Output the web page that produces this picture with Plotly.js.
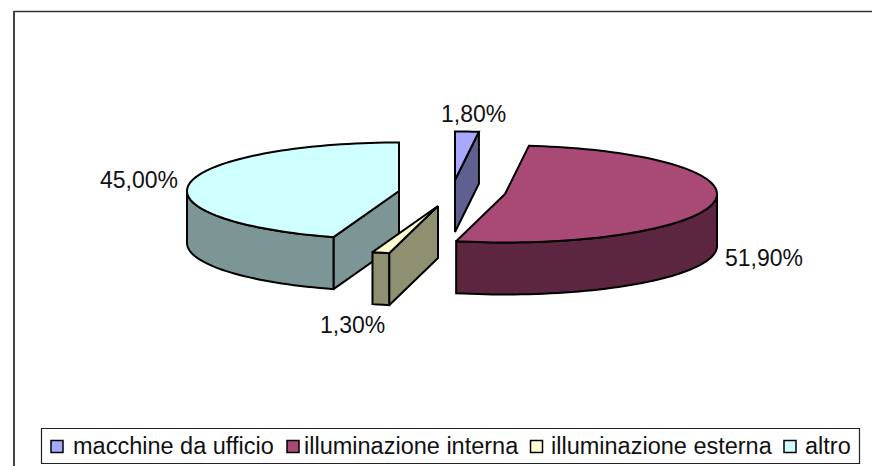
<!DOCTYPE html>
<html><head><meta charset="utf-8">
<script src="https://cdn.plot.ly/plotly-3.0.1.min.js"></script>
<style>html,body{margin:0;padding:0;background:#fff}#c{width:872px;height:466px}</style>
</head><body><div id="c"></div>
<script>
// Data
const categories = ["macchine da ufficio", "illuminazione interna", "illuminazione esterna", "altro"];
const values = [1.8, 51.9, 1.3, 45.0];
const valueLabels = ["1,80%", "51,90%", "1,30%", "45,00%"];
const topColors = ["#A8A8FF", "#A94A76", "#FFFFD2", "#D0FFFF"];
const wallColors = ["#5F5F90", "#5C2540", "#8F8F72", "#7B9695"];

// Pie geometry in plot units (axes run 0..872 and 466..0)
const RX = 212, RY = 48.5, DEPTH = 52;
const apexX = [455, 505, 438, 399];
const apexY = [180, 194, 206, 191];
const labelX = [473, 764, 352, 139];
const labelY = [114, 258, 325, 180];
const drawOrder = [3, 2, 1, 0];
const legendSwatchX = [57, 293, 536.5, 790];
const legendTextX = [73, 304, 551, 805];
const legendY = 446.5;

const rad = d => d * Math.PI / 180;
const ptOn = (i, t) => [apexX[i] + RX * Math.sin(rad(t)), apexY[i] - RY * Math.cos(rad(t))];
function arc(i, a, b) {
  const n = Math.max(2, Math.ceil(Math.abs(b - a) / 2)), out = [];
  for (let k = 0; k <= n; k++) out.push(ptOn(i, a + (b - a) * k / n));
  return out;
}
function poly(pts, fill, name) {
  const closed = pts.concat([pts[0]]);
  return {type: "scatter", mode: "lines", x: closed.map(p => p[0]), y: closed.map(p => p[1]),
    fill: "toself", fillcolor: fill, line: {color: "#000", width: 2, simplify: false},
    showlegend: false, hoverinfo: "skip", name: name};
}
const down = p => [p[0], p[1] + DEPTH];

let cum = 0;
const bounds = values.map(v => { const a = cum; cum += v; return [a * 3.6, cum * 3.6]; });
const traces = [];
drawOrder.forEach(i => {
  const [a0, a1] = bounds[i];
  const apex = [apexX[i], apexY[i]];
  // visible cut faces
  if (Math.sin(rad(a0)) < 0) { const o = ptOn(i, a0); traces.push(poly([apex, o, down(o), down(apex)], wallColors[i], categories[i])); }
  if (Math.sin(rad(a1)) > 0) { const o = ptOn(i, a1); traces.push(poly([apex, o, down(o), down(apex)], wallColors[i], categories[i])); }
  // visible outer wall
  const s = Math.max(a0, 90), e = Math.min(a1, 270);
  if (e > s) { const A = arc(i, s, e); traces.push(poly(A.concat(A.slice().reverse().map(down)), wallColors[i], categories[i])); }
  // top face
  traces.push(poly([apex].concat(arc(i, a0, a1)), topColors[i], categories[i]));
});
// legend swatches
traces.push({type: "scatter", mode: "markers", x: legendSwatchX, y: categories.map(() => legendY),
  marker: {symbol: "square", size: 12, color: topColors, line: {color: "#000", width: 1.5}},
  showlegend: false, hoverinfo: "skip"});

const family = "Liberation Sans, Arial, sans-serif";
const annotations = valueLabels.map((t, i) => ({text: t, x: labelX[i], y: labelY[i], xref: "x", yref: "y",
  showarrow: false, xanchor: "center", yanchor: "middle", font: {family, size: 23, color: "#111"}}))
  .concat(categories.map((t, i) => ({text: t, x: legendTextX[i], y: legendY - 1, xref: "x", yref: "y",
  showarrow: false, xanchor: "left", yanchor: "middle", font: {family, size: 23.5, color: "#111"}, borderpad: 0, borderwidth: 0})));

const line = (x0, y0, x1, y1, w, c) => ({type: "line", xref: "x", yref: "y", x0, y0, x1, y1, layer: "below", line: {color: c, width: w}});
const shapes = [
  line(14, 11.5, 872, 11.5, 1.5, "#333"),
  line(14, 11, 14, 466, 2, "#444"),
  {type: "rect", xref: "x", yref: "y", x0: 41.5, y0: 428.5, x1: 859.5, y1: 463.5, layer: "below",
    fillcolor: "#fff", line: {color: "#222", width: 1.2}}
];

Plotly.newPlot("c", traces, {
  width: 872, height: 466, margin: {l: 0, r: 0, t: 0, b: 0},
  paper_bgcolor: "#fff", plot_bgcolor: "#fff", showlegend: false,
  xaxis: {range: [0, 872], visible: false, fixedrange: true},
  yaxis: {range: [466, 0], visible: false, fixedrange: true},
  annotations, shapes
}, {displayModeBar: false, staticPlot: true});
</script></body></html>
